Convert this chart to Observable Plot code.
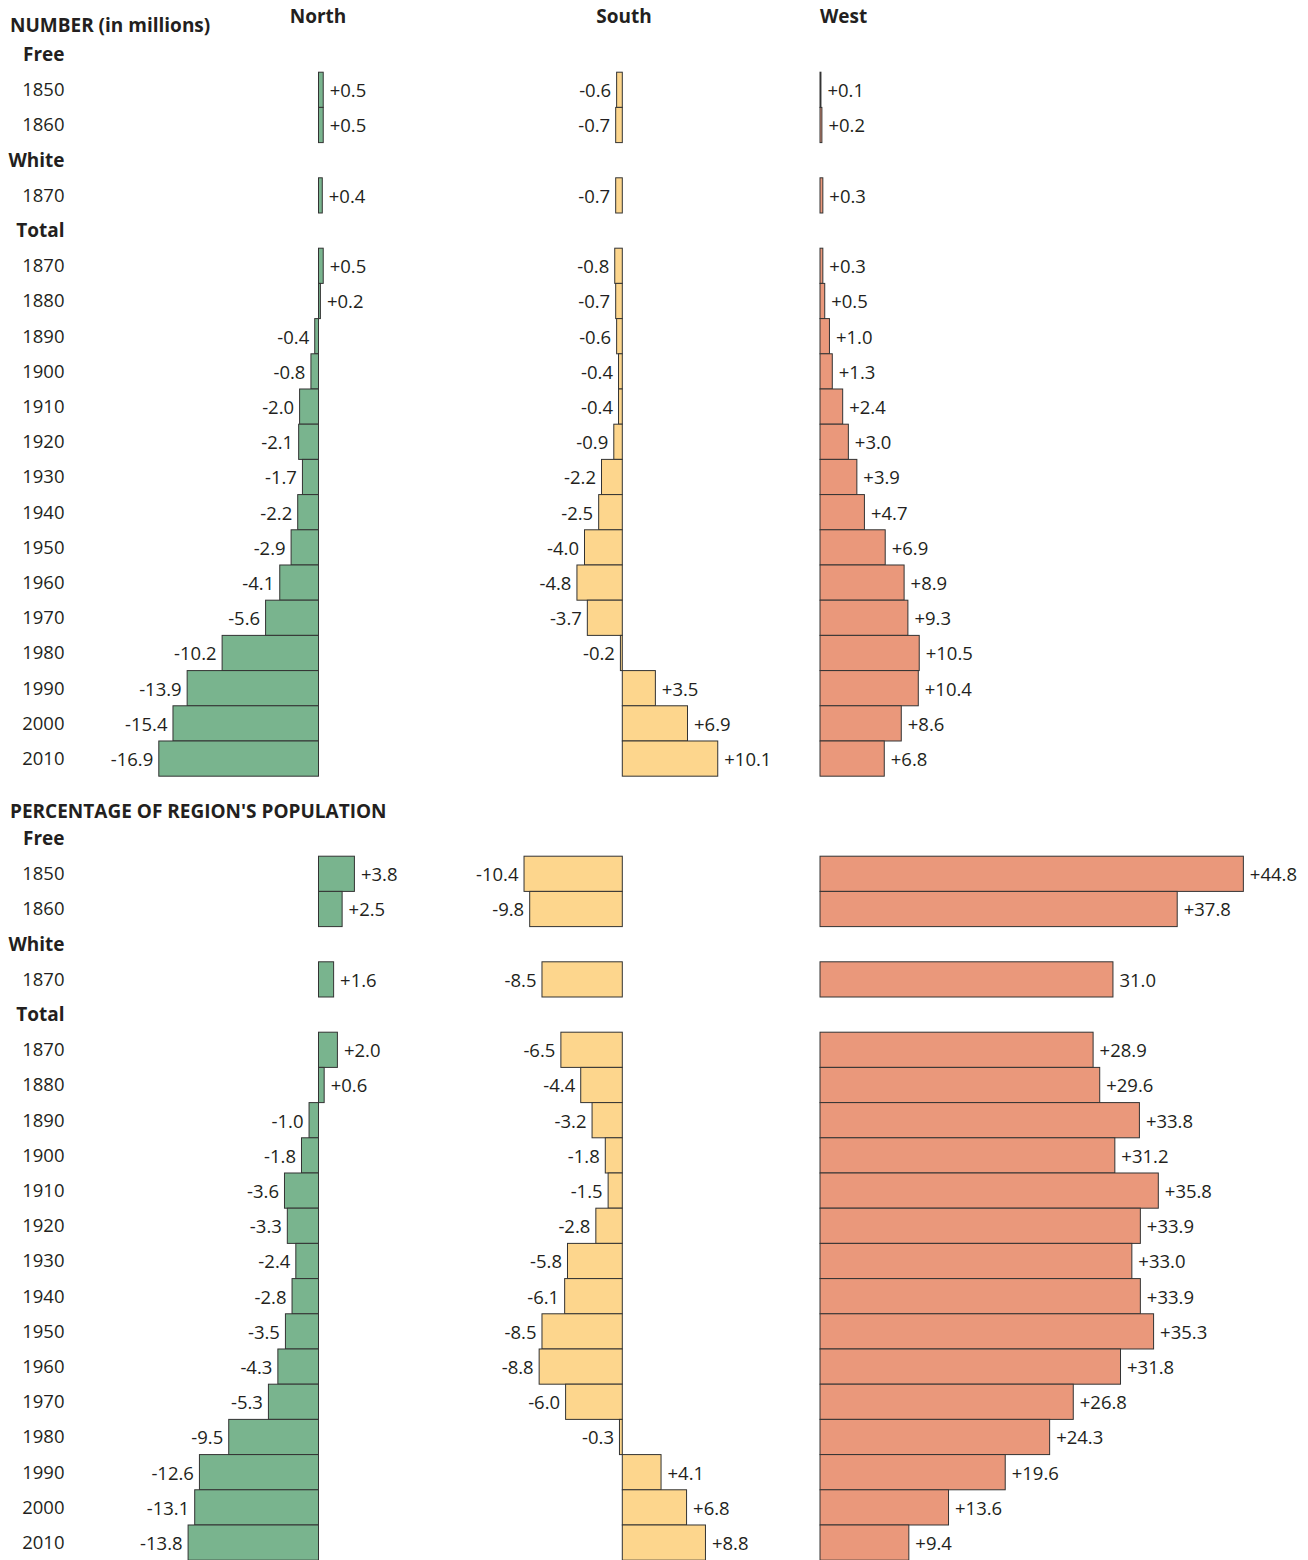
<!DOCTYPE html>
<html>
<head>
<meta charset="utf-8">
<script src="https://cdn.jsdelivr.net/npm/d3@7"></script>
<script src="https://cdn.jsdelivr.net/npm/@observablehq/plot@0.6"></script>
<style>
  html, body { margin: 0; padding: 0; background: #fff; }
  #chart { position: relative; width: 1308px; height: 1560px; font-family: "Open Sans", sans-serif; color: #231f20; overflow: hidden; }
  .t { position: absolute; font-weight: bold; font-size: 19px; line-height: 19px; white-space: nowrap; }
</style>
</head>
<body>
<div id="chart"></div>
<script>
// ---------------- DATA ----------------
const years  = ["1850","1860","1870","1870","1880","1890","1900","1910","1920","1930","1940","1950","1960","1970","1980","1990","2000","2010"];
const groups = ["Free","Free","White","Total","Total","Total","Total","Total","Total","Total","Total","Total","Total","Total","Total","Total","Total","Total"];
const regions = ["North","South","West"];

// NUMBER (in millions)
const numberNorth = [0.5, 0.5, 0.4, 0.5, 0.2, -0.4, -0.8, -2.0, -2.1, -1.7, -2.2, -2.9, -4.1, -5.6, -10.2, -13.9, -15.4, -16.9];
const numberSouth = [-0.6, -0.7, -0.7, -0.8, -0.7, -0.6, -0.4, -0.4, -0.9, -2.2, -2.5, -4.0, -4.8, -3.7, -0.2, 3.5, 6.9, 10.1];
const numberWest  = [0.1, 0.2, 0.3, 0.3, 0.5, 1.0, 1.3, 2.4, 3.0, 3.9, 4.7, 6.9, 8.9, 9.3, 10.5, 10.4, 8.6, 6.8];

// PERCENTAGE OF REGION'S POPULATION
const pctNorth = [3.8, 2.5, 1.6, 2.0, 0.6, -1.0, -1.8, -3.6, -3.3, -2.4, -2.8, -3.5, -4.3, -5.3, -9.5, -12.6, -13.1, -13.8];
const pctSouth = [-10.4, -9.8, -8.5, -6.5, -4.4, -3.2, -1.8, -1.5, -2.8, -5.8, -6.1, -8.5, -8.8, -6.0, -0.3, 4.1, 6.8, 8.8];
const pctWest  = [44.8, 37.8, 31.0, 28.9, 29.6, 33.8, 31.2, 35.8, 33.9, 33.0, 33.9, 35.3, 31.8, 26.8, 24.3, 19.6, 13.6, 9.4];

// labels printed without a sign in the original
const unsignedLabels = ["pct West White 1870"];

const panelTitles = ["NUMBER (in millions)", "PERCENTAGE OF REGION'S POPULATION"];

// ---------------- LAYOUT / STYLE ----------------
const K = 9.45;          // px per unit (shared by all columns)
const STEP = 35.2;       // row height
const INK = "#231f20";
const FONT = "'Open Sans', sans-serif";
const LABEL_SIZE = 18.5;
const colors = {North: "#79b48e", South: "#fdd68d", West: "#ea987b"};
const columns = {
  North: {left: 70,  width: 360, zero: 318.5},
  South: {left: 430, width: 370, zero: 622.3},
  West:  {left: 800, width: 508, zero: 820}
};

// rows: headers inserted where the group changes
const rows = [];
years.forEach((y, i) => {
  if (i === 0 || groups[i] !== groups[i - 1]) rows.push({key: groups[i], label: groups[i], header: true});
  rows.push({key: groups[i] + " " + y, label: y, header: false, i});
});
const rowKeys = rows.map(r => r.key);
const H = rowKeys.length * STEP;

const fmt = v => (v > 0 ? "+" : "-") + Math.abs(v).toFixed(1);

const chart = document.getElementById("chart");

function place(svg, left, top) {
  svg.style.position = "absolute";
  svg.style.left = left + "px";
  svg.style.top = top + "px";
  svg.style.background = "transparent";
  svg.style.maxWidth = "none";
  svg.style.overflow = "visible";
  chart.appendChild(svg);
}

function yScale() {
  return {type: "band", domain: rowKeys, range: [0, H], padding: 0, round: false, axis: null};
}

function drawPanel(panelKey, top, seriesByRegion) {
  // row labels
  const lab = Plot.plot({
    width: 70, height: H, margin: 0,
    x: {domain: [0, 1], axis: null},
    y: yScale(),
    style: {fontFamily: FONT},
    marks: [
      Plot.text(rows.filter(r => !r.header), {y: "key", text: "label", frameAnchor: "right", dx: -6, fill: INK, fontSize: LABEL_SIZE}),
      Plot.text(rows.filter(r => r.header), {y: "key", text: "label", frameAnchor: "right", dx: -6, fill: INK, fontSize: LABEL_SIZE + 0.5, fontWeight: "bold"})
    ]
  });
  place(lab, 0, top);

  regions.forEach(region => {
    const col = columns[region];
    const off = col.zero - col.left;
    const data = rows.filter(r => !r.header).map(r => {
      const v = seriesByRegion[region][r.i];
      const id = panelKey + " " + region + " " + r.key;
      return {key: r.key, value: v, label: unsignedLabels.includes(id) ? Math.abs(v).toFixed(1) : fmt(v)};
    });
    const svg = Plot.plot({
      width: col.width, height: H, margin: 0,
      x: {domain: [-off / K, (col.width - off) / K], range: [0, col.width], axis: null},
      y: yScale(),
      style: {fontFamily: FONT},
      marks: [
        Plot.barX(data, {x: "value", y: "key", fill: colors[region], stroke: "#333", strokeWidth: 1}),
        Plot.ruleX(rows.slice(1), {x: 0, y: "key", stroke: "#3a3a3a", strokeWidth: 1}),
        Plot.text(data.filter(d => d.value < 0), {x: "value", y: "key", text: "label", textAnchor: "end", dx: -6, dy: 1, fill: INK, fontSize: LABEL_SIZE}),
        Plot.text(data.filter(d => d.value > 0), {x: "value", y: "key", text: "label", textAnchor: "start", dx: 6, dy: 1, fill: INK, fontSize: LABEL_SIZE})
      ]
    });
    place(svg, col.left, top);
  });
}

drawPanel("number", 36.5, {North: numberNorth, South: numberSouth, West: numberWest});
drawPanel("pct", 820.5, {North: pctNorth, South: pctSouth, West: pctWest});

// titles (HTML)
function addText(txt, left, top, align, width) {
  const d = document.createElement("div");
  d.className = "t";
  d.textContent = txt;
  d.style.left = left + "px";
  d.style.top = top + "px";
  if (align) { d.style.textAlign = align; d.style.width = width + "px"; }
  chart.appendChild(d);
}
addText(panelTitles[0], 10, 15.5);
addText(panelTitles[1], 10, 802);
addText(regions[0], 318 - 60, 7, "center", 120);
addText(regions[1], 624 - 60, 7, "center", 120);
addText(regions[2], 820, 7);
</script>
</body>
</html>
